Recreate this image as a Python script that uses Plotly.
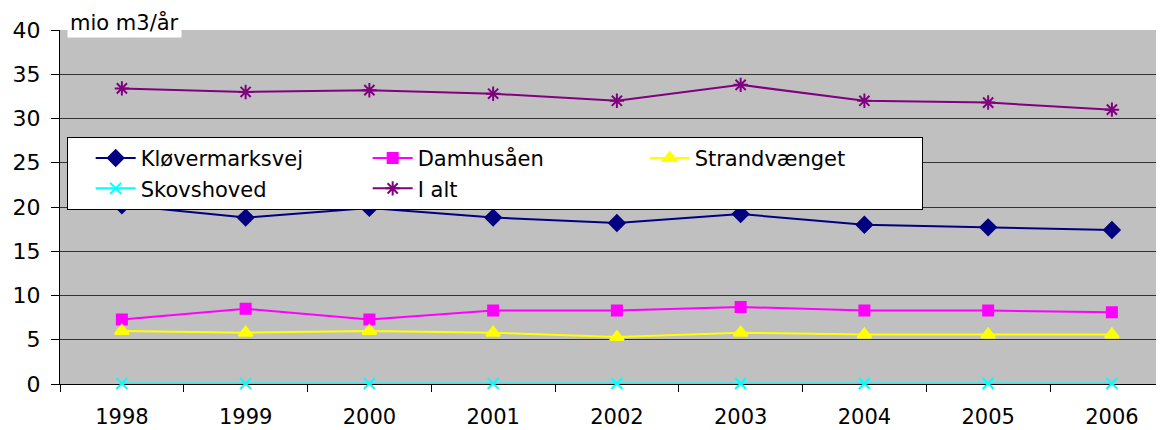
import plotly.graph_objects as go

years = ["1998", "1999", "2000", "2001", "2002", "2003", "2004", "2005", "2006"]
klovermarksvej = [20.2, 18.8, 19.9, 18.8, 18.2, 19.2, 18.0, 17.7, 17.4]
damhusaaen = [7.3, 8.5, 7.3, 8.3, 8.3, 8.7, 8.3, 8.3, 8.1]
strandvaenget = [6.0, 5.8, 6.0, 5.8, 5.3, 5.8, 5.6, 5.6, 5.6]
skovshoved = [0.05, 0.05, 0.05, 0.05, 0.05, 0.05, 0.05, 0.05, 0.05]
i_alt = [33.4, 33.0, 33.2, 32.8, 32.0, 33.8, 32.0, 31.8, 31.0]

series = [
    ("Kløvermarksvej", klovermarksvej, "#000080", "diamond", 12),
    ("Damhusåen", damhusaaen, "#FF00FF", "square", 10),
    ("Strandvænget", strandvaenget, "#FFFF00", "triangle-up", 12),
    ("Skovshoved", skovshoved, "#00FFFF", "x-thin-open", 11),
    ("I alt", i_alt, "#800080", "asterisk-open", 12),
]

FONT = "DejaVu Sans, Verdana, sans-serif"

fig = go.Figure()
for name, vals, color, sym, size in series:
    fig.add_trace(go.Scatter(
        x=years, y=vals, name=name, mode="lines+markers",
        line=dict(color=color, width=2),
        marker=dict(symbol=sym, size=size, color=color,
                    line=dict(color=color, width=2)),
        cliponaxis=False,
    ))

# page body adds an 8px offset; figure sized so the plot reaches the window's right edge
fig.update_layout(
    width=1156, height=422,
    margin=dict(l=52, r=0, t=22, b=46, autoexpand=False),
    paper_bgcolor="white",
    plot_bgcolor="#C0C0C0",
    font=dict(family=FONT, size=20, color="black"),
    showlegend=True,
    legend=dict(
        orientation="h", x=0.0063, y=0.698, xanchor="left", yanchor="top",
        bgcolor="white", bordercolor="black", borderwidth=1,
        font=dict(family=FONT, size=21, color="black"),
        entrywidth=222, entrywidthmode="pixels",
        itemwidth=40,
        title=dict(text="\u00a0\u00a0", side="left",
                   font=dict(family=FONT, size=20)),
    ),
    xaxis=dict(
        type="category", range=[-0.5, 8.421],
        tickson="boundaries", ticks="outside", ticklen=7, tickcolor="black",
        showline=True, linecolor="black", linewidth=1,
        showgrid=False, ticklabelstandoff=14, layer="below traces",
        automargin=False,
        tickfont=dict(family=FONT, size=21),
    ),
    yaxis=dict(
        range=[0, 40], dtick=5, tick0=0,
        ticks="outside", ticklen=8, tickcolor="black",
        showline=True, linecolor="black", linewidth=1,
        showgrid=True, gridcolor="#333333", gridwidth=1,
        zeroline=False, ticklabelstandoff=6, layer="below traces",
        automargin=False,
        tickfont=dict(family=FONT, size=22),
    ),
    annotations=[dict(
        text="mio m3/år", xref="paper", yref="paper",
        x=0.0063, y=1.02, xanchor="left", yanchor="middle",
        showarrow=False, bgcolor="white", borderpad=2,
        font=dict(family=FONT, size=21, color="black"),
    )],
)

fig.write_html("out.html")
